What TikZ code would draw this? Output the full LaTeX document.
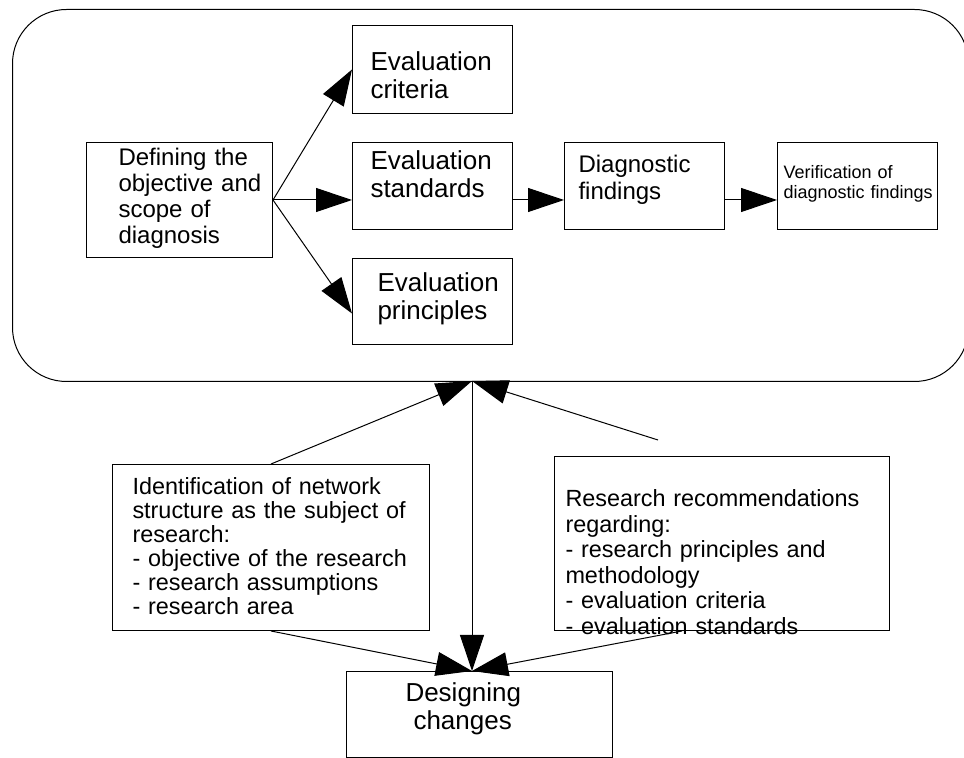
\documentclass[tikz,border=0pt]{standalone}
\usepackage{fontspec}
\setmainfont{Liberation Sans}
\usetikzlibrary{arrows.meta}

\begin{document}
\begin{tikzpicture}[x=1pt, y=-1pt,
        box/.style={draw, line width=0.5pt, anchor=north west, inner ysep=0pt, align=left,
            execute at begin node={\hyphenpenalty=10000 \hbadness=10000 \hfuzz=100pt}},
        arr/.style={line width=0.5pt, -{Triangle[length=18pt,width=12pt]}}]
        \useasboundingbox (0,0) rectangle (482,379);
        % outer frame
        \node[draw, line width=0.5pt, rounded corners=27pt, inner sep=0pt, anchor=north west,
            minimum width=478pt, minimum height=186pt] (frame) at (6,4.5) {};
        % diagnosis steps
        \node[box, inner xsep=16pt, text width=61pt, text height=11.5pt, text depth=46pt,
            font=\fontsize{12}{13}\selectfont] (scope) at (43,71) {Defining~the\\objective~and\\scope~of\\diagnosis};
        \node[box, inner xsep=9pt, text width=62pt, text height=22.5pt, text depth=21.5pt,
            font=\fontsize{13}{14}\selectfont] (crit) at (176,12.5) {Evaluation\\criteria};
        \node[box, inner xsep=9pt, text width=62pt, text height=13.5pt, text depth=30pt,
            font=\fontsize{13}{14}\selectfont] (std) at (176,71) {Evaluation\\standards};
        \node[box, inner xsep=12.5pt, text width=55pt, text height=16.5pt, text depth=26.5pt,
            font=\fontsize{13}{14}\selectfont] (prin) at (176,129) {Evaluation\\principles};
        \node[box, inner xsep=7pt, text width=66pt, text height=15pt, text depth=28.5pt,
            font=\fontsize{12}{13.5}\selectfont] (diag) at (282,71) {Diagnostic\\findings};
        \node[box, inner xsep=3pt, text width=74pt, text height=18pt, text depth=25.5pt,
            font=\fontsize{9}{10}\selectfont] (verif) at (388.5,71) {Verification~of\\diagnostic~findings};
        % inputs and result
        \node[box, inner xsep=10pt, text width=138.5pt, text height=15pt, text depth=68pt,
            font=\fontsize{11.7}{12}\selectfont] (ident) at (56,232) {Identification~of~network\\structure~as~the~subject~of\\research:\\- objective~of~the~research\\- research~assumptions\\- research~area};
        \node[box, inner xsep=5.5pt, text width=156.5pt, text height=25pt, text depth=62pt,
            font=\fontsize{11.7}{12.8}\selectfont] (recom) at (277,228) {Research~recommendations\\regarding:\\- research~principles~and\\methodology\\- evaluation~criteria\\- evaluation~standards};
        \node[box, inner xsep=29.5pt, text width=74pt, text height=14.8pt, text depth=28.2pt,
            font=\fontsize{13}{14}\selectfont] (design) at (173,335.5) {Designing\\\hspace*{4pt}changes};
        \coordinate (hub) at (236,190.5);
        \coordinate (recend) at (329,220);
        % connectors
        \draw[arr] (scope.east) -- (crit.west);
        \draw[arr] (scope.east) -- (scope.east -| std.west);
        \draw[arr] (scope.east) -- ([yshift=-6pt]prin.west);
        \draw[arr] (scope.east -| std.east) -- (scope.east -| diag.west);
        \draw[arr] (scope.east -| diag.east) -- (scope.east -| verif.west);
        \draw[arr] (ident.north) -- (hub);
        \draw[arr] (recend) -- (hub);
        \draw[arr] (hub) -- (hub |- design.north);
        \draw[arr] (ident.south) -- (hub |- design.north);
        \draw[arr] ([xshift=-20pt]recom.south) -- (hub |- design.north);
\end{tikzpicture}
\end{document}
